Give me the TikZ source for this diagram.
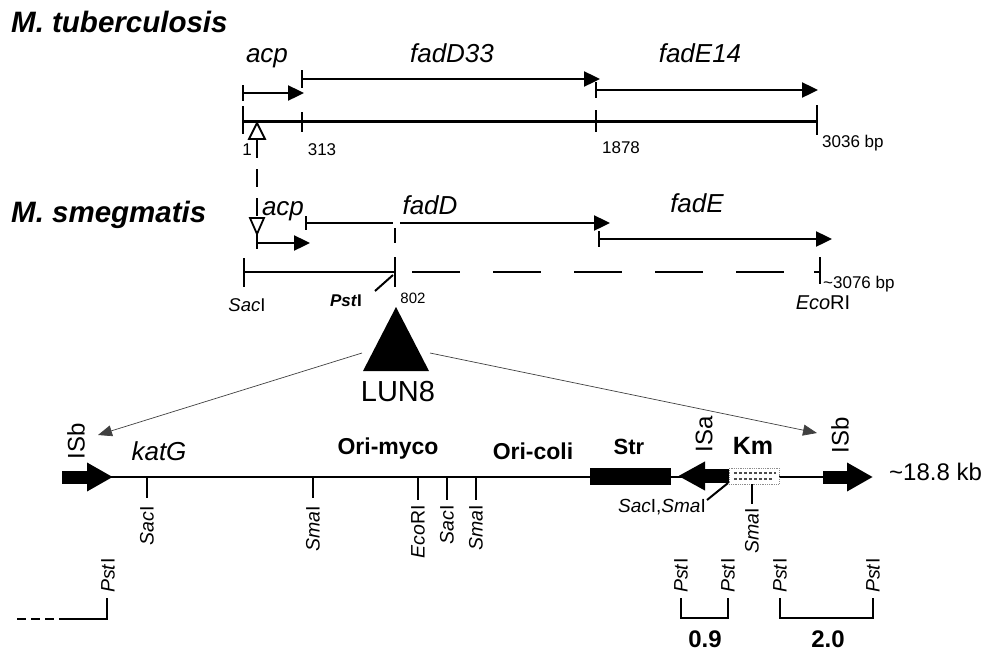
\documentclass[tikz,border=0pt]{standalone}
\usepackage{fontspec}
\setmainfont{Liberation Sans}
\usetikzlibrary{arrows.meta}
\tikzset{
  x=1pt, y=-1pt,
  ttl/.style={font=\fontsize{29.5}{31}\selectfont\bfseries\itshape, anchor=west, inner sep=0pt},
  glab/.style={font=\fontsize{26}{28}\selectfont\itshape, inner sep=0pt, anchor=base},
  num/.style={font=\fontsize{17}{19}\selectfont, inner sep=0pt},
  rlab/.style={font=\fontsize{19.5}{21}\selectfont, rotate=90, anchor=east, inner sep=0pt},
  plab/.style={font=\fontsize{19.5}{21}\selectfont, rotate=90, anchor=west, inner sep=0pt},
  maplab/.style={font=\fontsize{24}{26}\selectfont, inner sep=0pt},
  geneA/.style={line width=2.4pt, -{Triangle[length=16pt,width=15pt]}},
  tickA/.style={line width=2.6pt},
  thinA/.style={line width=0.7pt, draw=black!75, -{Triangle[length=14pt,width=11pt]}},
  isA/.style={line width=13pt, -{Triangle[length=26pt,width=27pt]}},
  brk/.style={line width=2.6pt},
  opentri/.style={draw, line width=1.8pt, fill=white},
  site/.style={line width=2pt},
}
\begin{document}
\begin{tikzpicture}
\useasboundingbox (0,0) rectangle (996,656);
% ---------------- M. tuberculosis ----------------
\node[ttl] (tbt) at (11,22) {M. tuberculosis};
\node[glab] (acpT) at (267,62) {acp};
\node[glab] (fadDT) at (452,62) {fadD33};
\node[glab] (fadET) at (700,62) {fadE14};
\coordinate (a1) at (243,93); \coordinate (a2) at (304,93);
\coordinate (d1) at (302,79); \coordinate (d2) at (600,79);
\coordinate (e1) at (596,90); \coordinate (e2) at (818,90);
\draw[geneA] (a1) -- (a2);
\draw[geneA] (d1) -- (d2);
\draw[geneA] (e1) -- (e2);
\draw[tickA] (243,85) -- (243,101);
\draw[tickA] (302,70) -- (302,88);
\draw[tickA] (596,82) -- (596,98);
\coordinate (g1) at (243,121); \coordinate (g2) at (817,121);
\draw[line width=3pt] (g1) -- (g2);
\draw[tickA] (243,106) -- (243,134);
\draw[tickA] (302,112) -- (302,132);
\draw[tickA] (596,110) -- (596,132);
\draw[tickA] (817,105) -- (817,135);
\node[num] (n1) at (247,150) {1};
\node[num] (n313) at (322,150) {313};
\node[num] (n1878) at (621,148) {1878};
\node[num, anchor=west] (n3036) at (822,143) {3036 bp};
% transposon insertion link
\coordinate (up) at (257,123); \coordinate (dn) at (257,234);
\draw[opentri] (up) -- (249,139) -- (265,139) -- cycle;
\draw[line width=2pt, dash pattern=on 18pt off 11pt] (257,140) -- (257,217);
\draw[opentri] (250,218) -- (264,218) -- (dn) -- cycle;
% ---------------- M. smegmatis ----------------
\node[ttl] (sm) at (11,215) {M. smegmatis};
\node[glab] (acpS) at (283,215) {acp};
\node[glab] (fadDS) at (430,214) {fadD};
\node[glab] (fadES) at (697,212) {fadE};
\draw[tickA] (257,234) -- (257,249);
\coordinate (s1) at (257,243); \coordinate (s2) at (310,243);
\draw[geneA] (s1) -- (s2);
\draw[line width=2.4pt] (306,223) -- (393,223);
\coordinate (f1) at (400,223); \coordinate (f2) at (610,223);
\draw[geneA] (f1) -- (f2);
\draw[tickA] (306,216) -- (306,230);
\coordinate (h1) at (599,239); \coordinate (h2) at (832,239);
\draw[geneA] (h1) -- (h2);
\draw[tickA] (599,231) -- (599,247);
% physical map line
\draw[tickA] (244,258) -- (244,287);
\coordinate (p1) at (244,272); \coordinate (pst) at (395,272);
\draw[line width=2.4pt] (p1) -- (pst);
\draw[line width=2.4pt] (395,228) -- (395,243);
\draw[line width=2.4pt] (395,257) -- (395,287);
\draw[line width=2.4pt, dash pattern=on 48pt off 33pt] (412,272) -- (786,272);
\draw[line width=2.4pt] (814,272) -- (820,272);
\draw[tickA] (820,257) -- (820,284);
\node[font=\fontsize{18.5}{20}\selectfont, inner sep=0pt] (sacS) at (247,305) {\textit{Sac}I};
\node[font=\fontsize{17}{19}\selectfont\bfseries, inner sep=0pt] (pstS) at (346,301) {\textit{Pst}I};
\draw[line width=2pt] (375,291) -- (393,275);
\node[font=\fontsize{15}{17}\selectfont, inner sep=0pt] (n802) at (413,298) {802};
\node[font=\fontsize{17}{19}\selectfont, inner sep=0pt, anchor=west] (n3076) at (823,284) {\textasciitilde3076 bp};
\node[font=\fontsize{20}{22}\selectfont, inner sep=0pt] (ecoS) at (823,303) {\textit{Eco}RI};
% LUN8
\fill (396,307) -- (363,371) -- (429,371) -- cycle;
\node[font=\fontsize{29}{31}\selectfont, inner sep=0pt] (lun) at (398,392) {LUN8};
\coordinate (tL) at (362,353); \coordinate (tR) at (430,353);
\coordinate (isbL) at (98,435); \coordinate (isbR) at (817,433);
\draw[thinA] (tL) -- (isbL);
\draw[thinA] (tR) -- (isbR);
% ---------------- LUN8 map ----------------
\coordinate (m1) at (110,477); \coordinate (m2) at (840,477);
\draw[line width=1.8pt] (m1) -- (m2);
\draw[isA] (62,477) -- (113,477);
\draw[isA] (823,477) -- (873,477);
\fill (590,468) rectangle (671,485);
\draw[line width=14pt, -{Triangle[length=27pt,width=27pt]}] (731,476) -- (678,476);
\draw[draw=black!45, fill=white, line width=0.8pt, densely dotted] (729,468) rectangle (779,484);
\draw[black!70, line width=1.2pt, dash pattern=on 3pt off 2pt] (734,473) -- (776,473);
\draw[black!70, line width=1.2pt, dash pattern=on 3pt off 2pt] (734,479) -- (772,479);
\node[maplab, rotate=90] (isbLl) at (76,441) {ISb};
\node[maplab, rotate=90] (isa) at (704,434) {ISa};
\node[maplab, rotate=90] (isbRl) at (840,435) {ISb};
\node[font=\fontsize{25}{27}\selectfont\bfseries, inner sep=0pt] (km) at (753,446) {Km};
\node[font=\fontsize{22}{24}\selectfont\bfseries, inner sep=0pt] (str) at (629,447) {Str};
\node[font=\fontsize{23}{25}\selectfont\bfseries, inner sep=0pt] (oc) at (533,451) {Ori-coli};
\node[font=\fontsize{23}{25}\selectfont\bfseries, inner sep=0pt] (om) at (388,449) {Ori-myco};
\node[glab, anchor=center] (kat) at (159,451) {katG};
\node[maplab, anchor=west] (size) at (889,472) {\textasciitilde18.8 kb};
% restriction sites
\draw[site] (147,477) -- (147,498);
\draw[site] (313,477) -- (313,498);
\draw[site] (418,477) -- (418,500);
\draw[site] (447,477) -- (447,500);
\draw[site] (476,477) -- (476,500);
\draw[site] (752,484) -- (752,504);
\node[rlab] (r1) at (147,506) {\textit{Sac}I};
\node[rlab] (r2) at (313,506) {\textit{Sma}I};
\node[rlab] (r3) at (418,505) {\textit{Eco}RI};
\node[rlab] (r4) at (447,505) {\textit{Sac}I};
\node[rlab] (r5) at (476,505) {\textit{Sma}I};
\node[rlab] (r6) at (752,508) {\textit{Sma}I};
\draw[site] (707,500) -- (728,483);
\node[font=\fontsize{19}{21}\selectfont, inner sep=0pt] (ss) at (662,507) {\textit{Sac}I,\textit{Sma}I};
% PstI fragments
\draw[brk, dash pattern=on 9pt off 5pt] (17,619) -- (62,619);
\draw[brk] (62,619) -- (107,619) -- (107,598);
\node[plab] (pL) at (108,593) {\textit{Pst}I};
\draw[brk] (681,598) -- (681,618) -- (728,618) -- (728,598);
\node[plab] (pa) at (681,593) {\textit{Pst}I};
\node[plab] (pb) at (728,593) {\textit{Pst}I};
\node[font=\fontsize{24}{26}\selectfont\bfseries, inner sep=0pt] (k09) at (705,639) {0.9};
\draw[brk] (780,598) -- (780,618) -- (873,618) -- (873,598);
\node[plab] (pc) at (780,593) {\textit{Pst}I};
\node[plab] (pd) at (873,593) {\textit{Pst}I};
\node[font=\fontsize{24}{26}\selectfont\bfseries, inner sep=0pt] (k20) at (828,639) {2.0};
\end{tikzpicture}
\end{document}
